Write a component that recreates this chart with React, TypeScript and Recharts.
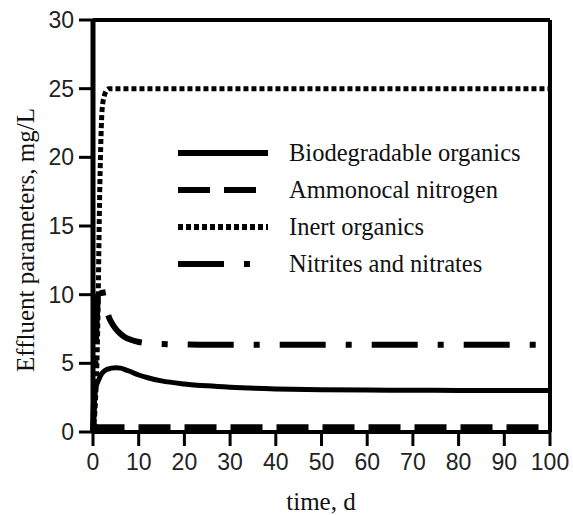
import {
  Label,
  Legend,
  Line,
  LineChart,
  ReferenceLine,
  XAxis,
  YAxis,
} from 'recharts';

const TIME = [0, 0.5, 1, 1.5, 2, 2.5, 3, 3.5, 4, 5, 6, 7, 8, 10, 12, 15, 20, 25, 30, 40, 50, 60, 70, 80, 90, 100];
const BIODEGRADABLE = [0, 3.0, 3.6, 4.0, 4.3, 4.45, 4.55, 4.6, 4.65, 4.68, 4.65, 4.55, 4.42, 4.15, 3.95, 3.72, 3.5, 3.36, 3.26, 3.14, 3.08, 3.05, 3.04, 3.03, 3.03, 3.03];
const AMMONOCAL = [0.5, 0.4, 0.35, 0.35, 0.35, 0.35, 0.35, 0.35, 0.35, 0.35, 0.35, 0.35, 0.35, 0.35, 0.35, 0.35, 0.35, 0.35, 0.35, 0.35, 0.35, 0.35, 0.35, 0.35, 0.35, 0.35];
const INERT = [0, 2, 7, 18, 23.5, 24.5, 24.9, 25, 25, 25, 25, 25, 25, 25, 25, 25, 25, 25, 25, 25, 25, 25, 25, 25, 25, 25];
const NITRITES = [0, 5, 9.5, 10.9, 10.4, 9.4, 8.85, 8.35, 8.0, 7.5, 7.15, 6.9, 6.75, 6.55, 6.45, 6.4, 6.37, 6.35, 6.35, 6.35, 6.35, 6.35, 6.35, 6.35, 6.35, 6.35];

const X_TICKS = [0, 10, 20, 30, 40, 50, 60, 70, 80, 90, 100];
const Y_TICKS = [0, 5, 10, 15, 20, 25, 30];

const SERIES = [
  { key: 'bio', name: 'Biodegradable organics', width: 5, legendWidth: 6, dash: undefined },
  { key: 'ammo', name: 'Ammonocal nitrogen', width: 6, legendWidth: 6, dash: '32 14' },
  { key: 'inert', name: 'Inert organics', width: 5, legendWidth: 6, dash: '5 3' },
  { key: 'nitr', name: 'Nitrites and nitrates', width: 6, legendWidth: 6, dash: '46 20 6 20' },
];

const data = TIME.map((t, i) => ({
  t,
  bio: BIODEGRADABLE[i],
  ammo: AMMONOCAL[i],
  inert: INERT[i],
  nitr: NITRITES[i],
}));

const serif = '"Liberation Serif", "Times New Roman", serif';
const sans = '"Liberation Sans", Arial, sans-serif';

function LegendBox() {
  return (
    <div style={{ fontFamily: serif, fontSize: 24.5, color: '#111' }}>
      {SERIES.map((s) => (
        <div key={s.key} style={{ display: 'flex', alignItems: 'center', height: 37 }}>
          <svg width={92} height={12} style={{ marginRight: 20 }}>
            <line x1={1} y1={6} x2={91} y2={6} stroke="#000" strokeWidth={s.legendWidth} strokeDasharray={s.dash} />
          </svg>
          <span>{s.name}</span>
        </div>
      ))}
    </div>
  );
}

export default function App() {
  return (
    <div style={{ position: 'absolute', left: 0, top: 0, width: 573, height: 515, background: '#fff' }}>
      <LineChart width={573} height={515} data={data} margin={{ top: 20, right: 23, bottom: 33, left: 0 }}>
        <XAxis
          dataKey="t"
          type="number"
          domain={[0, 100]}
          ticks={X_TICKS}
          height={50}
          axisLine={{ stroke: '#000', strokeWidth: 4 }}
          tickLine={{ stroke: '#000', strokeWidth: 3 }}
          tickSize={14}
          tickMargin={8}
          tick={{ fontFamily: sans, fontSize: 23, fill: '#222' }}
        >
          <Label
            content={() => (
              <text x={321} y={510} textAnchor="middle" fontFamily={serif} fontSize={25} fill="#111">
                time, d
              </text>
            )}
          />
        </XAxis>
        <YAxis
          type="number"
          domain={[0, 30]}
          ticks={Y_TICKS}
          width={93}
          axisLine={{ stroke: '#000', strokeWidth: 5 }}
          tickLine={{ stroke: '#000', strokeWidth: 3 }}
          tickSize={14}
          tickMargin={5}
          tick={{ fontFamily: sans, fontSize: 23, fill: '#222' }}
        >
          <Label
            content={() => (
              <text
                transform="translate(25,240) rotate(-90)"
                textAnchor="middle"
                dominantBaseline="central"
                fontFamily={serif}
                fontSize={25}
                fill="#111"
              >
                Effluent parameters, mg/L
              </text>
            )}
          />
        </YAxis>
        <ReferenceLine y={30} stroke="#000" strokeWidth={4} />
        <ReferenceLine x={100} stroke="#000" strokeWidth={4} />
        {SERIES.map((s) => (
          <Line
            key={s.key}
            dataKey={s.key}
            name={s.name}
            type="monotone"
            stroke="#000"
            strokeWidth={s.width}
            strokeDasharray={s.dash}
            strokeLinecap="butt"
            dot={false}
            activeDot={false}
            isAnimationActive={false}
          />
        ))}
        <Legend
          layout="vertical"
          align="center"
          verticalAlign="middle"
          content={() => <LegendBox />}
          wrapperStyle={{ left: 177, top: 134, width: 370, height: 150 }}
        />
      </LineChart>
    </div>
  );
}
